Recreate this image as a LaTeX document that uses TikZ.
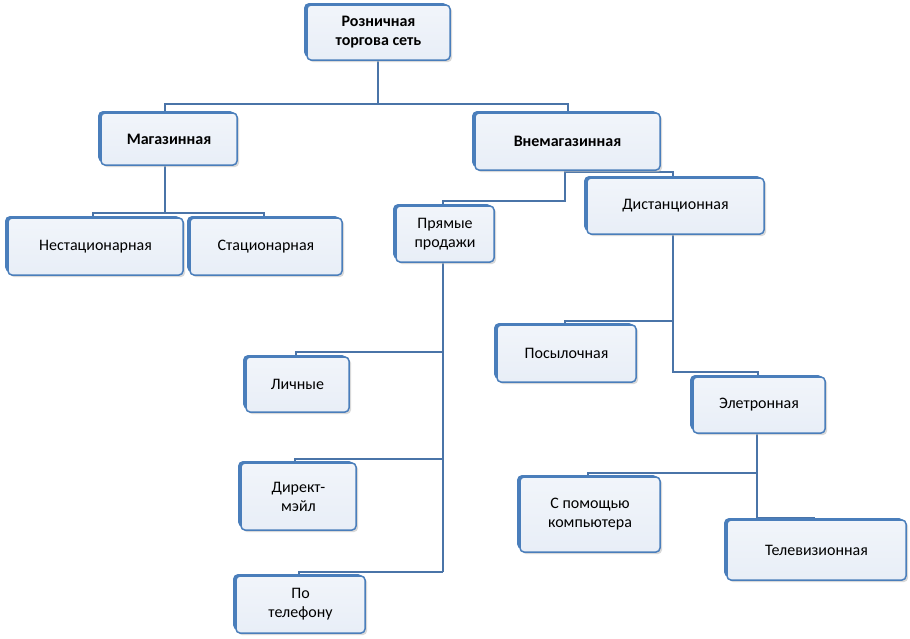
\documentclass[tikz,border=0pt]{standalone}
\usepackage{fontspec}
\setmainfont{Carlito}
\usetikzlibrary{shadows}
\definecolor{bord}{HTML}{4A7EBB}
\definecolor{bfill}{HTML}{E8EEF7}
\definecolor{lnc}{HTML}{4A74A8}
\tikzset{
 bx/.style={draw=bord,line width=1.5pt,rounded corners=4pt,top color=white!40!bfill,bottom color=bfill,
   align=center,font=\fontsize{16}{19}\selectfont,inner sep=0pt,
   drop shadow={shadow xshift=2pt,shadow yshift=-2pt,fill=gray!50,opacity=.6}},
 back/.style={fill=bord,rounded corners=5pt},
 ln/.style={draw=lnc,line width=1.4pt}
}
\newcommand{\bx}[7][]{%
 \fill[back] (#3-3,#4-2) rectangle (#5-2,#6-3);
 \node[bx,#1,minimum width={(#5-#3)*1pt},minimum height={(#6-#4)*1pt}] (#2) at ({(#3+#5)/2},{(#4+#6)/2}) {#7};}
\begin{document}
\begin{tikzpicture}[x=1pt,y=-1pt]
\useasboundingbox (0,0) rectangle (910,638);
% connectors
\coordinate (r1) at (378,104);
\draw[ln] (378,60) -- (r1);
\draw[ln] (165,113) -- (165,104) -- (568,104) -- (568,113);
\draw[ln] (165,165) -- (165,213);
\draw[ln] (93,218) -- (93,213) -- (264,213) -- (264,218);
\draw[ln] (565,170) -- (565,201) -- (443,201) -- (443,206);
\draw[ln] (565,172) -- (673,172) -- (673,178);
\draw[ln] (443,262) -- (443,572);
\draw[ln] (443,352) -- (296,352) -- (296,357);
\draw[ln] (443,459) -- (295,459) -- (295,463);
\draw[ln] (443,572) -- (299,572) -- (299,576);
\draw[ln] (673,234) -- (673,372) -- (758,372) -- (758,377);
\draw[ln] (673,321) -- (565,321) -- (565,325);
\draw[ln] (757,433) -- (757,518) -- (814,518) -- (814,520);
\draw[ln] (757,473) -- (588,473) -- (588,477);
% boxes
\bx[font=\fontsize{16}{19}\bfseries]{root}{307}{5}{450}{60}{Розничная\\торгова сеть}
\bx[font=\fontsize{16}{19}\bfseries]{mag}{101}{113}{237}{165}{Магазинная}
\bx[font=\fontsize{16}{19}\bfseries]{vne}{475}{113}{660}{170}{Внемагазинная}
\bx{nest}{8}{218}{183}{275}{Нестационарная}
\bx{stac}{190}{218}{342}{275}{Стационарная}
\bx{pry}{396}{206}{494}{262}{Прямые\\продажи}
\bx{dist}{587}{178}{764}{234}{Дистанционная}
\bx{pos}{497}{325}{636}{382}{Посылочная}
\bx{lich}{246}{357}{349}{412}{Личные}
\bx{elet}{693}{377}{825}{433}{Элетронная}
\bx{dir}{241}{463}{356}{530}{Директ-\\мэйл}
\bx{komp}{520}{477}{660}{552}{С помощью\\компьютера}
\bx{tel}{727}{520}{906}{580}{Телевизионная}
\bx{potel}{236}{576}{365}{633}{По\\телефону}
\end{tikzpicture}
\end{document}
